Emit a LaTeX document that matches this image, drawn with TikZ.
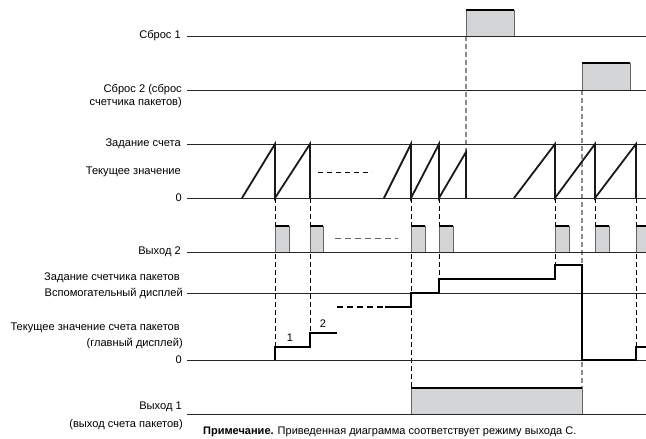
\documentclass[tikz,border=0pt]{standalone}
\usepackage{fontspec}
\setmainfont{Liberation Sans}
\definecolor{pulsefill}{RGB}{212,213,215}
\definecolor{guidegray}{RGB}{140,140,140}
\begin{document}
\begin{tikzpicture}[x=1pt,y=-1pt,
  lab/.style={anchor=east, inner sep=0pt, font=\fontsize{11.1}{13}\selectfont},
  baseln/.style={line width=0.9pt, draw=black!85},
  sig/.style={line width=2.2pt, draw=black, line join=miter},
  rampln/.style={line width=1.8pt, draw=black!90, line join=miter},
  guide/.style={line width=0.6pt, draw=black, dash pattern=on 5pt off 3pt},
  rguide/.style={line width=1.2pt, draw=guidegray, dash pattern=on 5pt off 3pt},
  pulsebox/.style={fill=pulsefill, draw=black!60, line width=0.8pt},
  pulsetop/.style={line width=2.4pt, draw=black}
]
\useasboundingbox (0,0) rectangle (646,439);

% ---------- labels ----------
\node[lab] (l1) at (181,36) {Сброс 1};
\node[lab] (l2a) at (182,90) {Сброс 2 (сброс};
\node[lab] (l2b) at (182,103) {счетчика пакетов)};
\node[lab] (l3) at (181,144) {Задание счета};
\node[lab] (l4) at (181,172) {Текущее значение};
\node[lab] (l5) at (182,198) {0};
\node[lab] (l6) at (181,252) {Выход 2};
\node[lab] (l7a) at (180,278) {Задание счетчика пакетов};
\node[lab] (l7b) at (183,293) {Вспомогательный дисплей};
\node[lab] (l8a) at (180,328) {Текущее значение счета пакетов};
\node[lab] (l8b) at (183,344) {(главный дисплей)};
\node[lab] (l9) at (182,360) {0};
\node[lab] (l10a) at (182,407) {Выход 1};
\node[lab] (l10b) at (183,425) {(выход счета пакетов)};
\node[anchor=west, inner sep=0pt, font=\fontsize{11}{13}\selectfont] (note) at (203,432)
  {\textbf{Примечание.} Приведенная диаграмма соответствует режиму выхода C.};

% ---------- guides (behind) ----------
\draw[rguide] (466,36) -- (466,152);
\draw[rguide] (582,90) -- (582,414);
\foreach \x/\y in {275/347, 310/333, 411/388, 439/279, 555/265, 595/252, 636/347}
  \draw[guide] (\x,198) -- (\x,\y);

% ---------- pulses ----------
\draw[pulsebox] (466,36) rectangle (514,10);
\draw[pulsetop] (466,10) -- (514,10);
\draw[pulsebox] (582,90) rectangle (630,63);
\draw[pulsetop] (582,63) -- (630,63);
\foreach \a/\b in {275/289, 310/323, 411/425, 439/453, 555/569, 595/609, 636/650} {
  \draw[pulsebox] (\a,252) rectangle (\b,226);
  \draw[pulsetop] (\a,226) -- (\b,226);
}
\draw[pulsebox] (411,414) rectangle (582,388);
\draw[pulsetop] (411,388) -- (582,388);

% ---------- baselines ----------
\foreach \y in {36,90,144,198,252,293,360,414}
  \draw[baseln] (187,\y) -- (646,\y);

% ---------- counter ramps ----------
\draw[rampln] (242,198) -- (275,144) -- (275,198) -- (310,144) -- (310,198);
\draw[rampln] (384,198) -- (411,144) -- (411,198) -- (439,144) -- (439,198) -- (466,152) -- (466,198);
\draw[rampln] (514,198) -- (555,144) -- (555,198) -- (595,144) -- (595,198) -- (636,144) -- (636,198);
\draw[line width=0.7pt, dash pattern=on 5pt off 4pt] (318,172) -- (372,172);
\draw[line width=1pt, draw=black!60, dash pattern=on 6pt off 4pt] (335,238) -- (398,238);

% ---------- packet counter ----------
\draw[sig] (275,360) -- (275,347) -- (310,347) -- (310,333) -- (337,333);
\node[inner sep=0pt, font=\fontsize{11}{13}\selectfont] (n1) at (290,338) {1};
\node[inner sep=0pt, font=\fontsize{11}{13}\selectfont] (n2) at (323,324) {2};
\draw[sig, dash pattern=on 6pt off 4pt] (337,307) -- (385,307);
\draw[sig] (385,307) -- (411,307) -- (411,293) -- (439,293) -- (439,279) -- (555,279)
  -- (555,265) -- (582,265) -- (582,360) -- (636,360) -- (636,347) -- (646,347);
\end{tikzpicture}
\end{document}
